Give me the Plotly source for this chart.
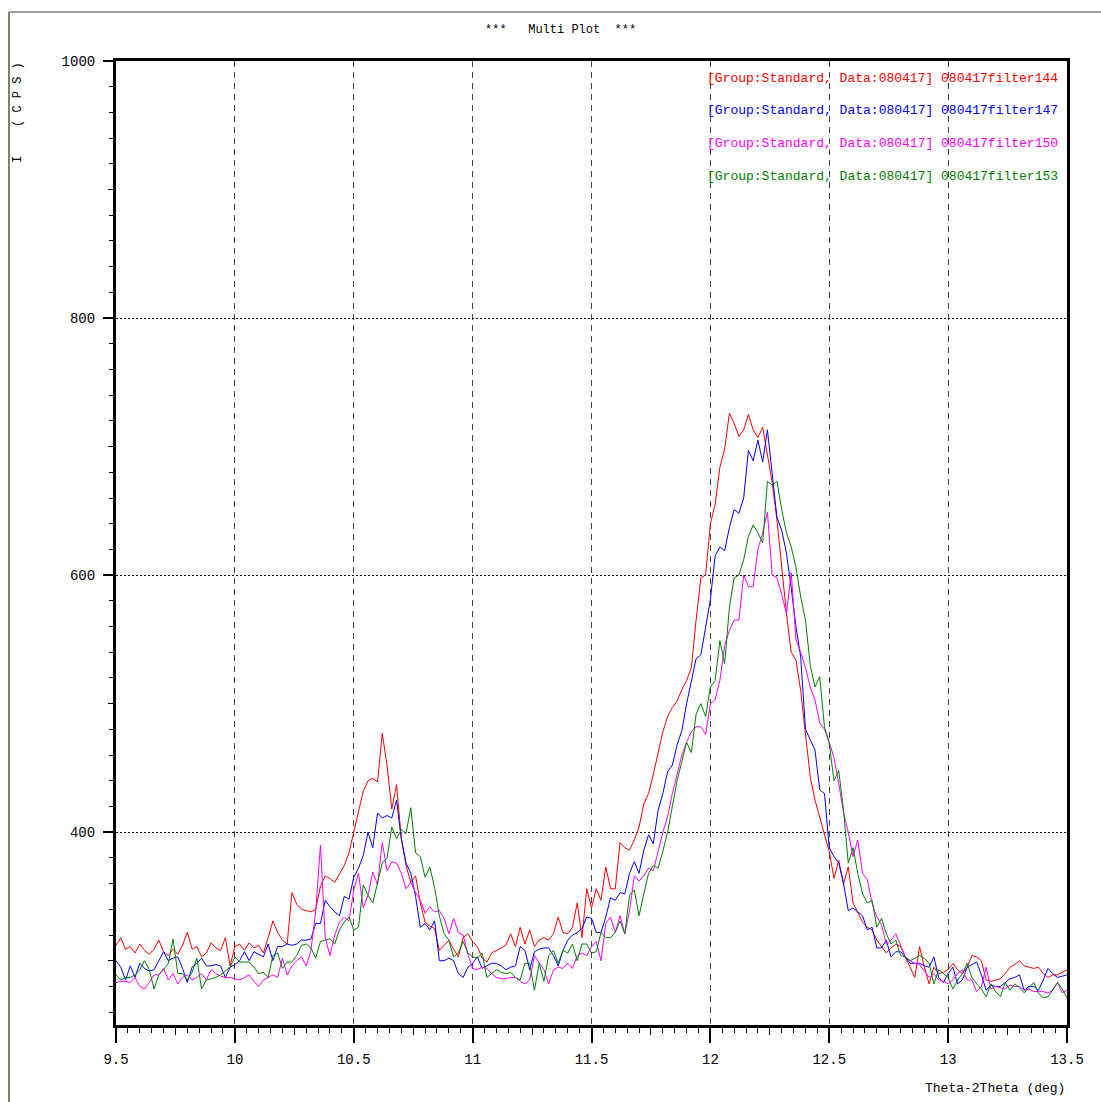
import plotly.graph_objects as go

# ---------------- data ----------------
theta_start = 9.5
theta_step = 0.02
n_points = 201
theta = [round(theta_start + theta_step * i, 2) for i in range(n_points)]

filter144 = [
    312, 318, 309, 311, 306, 313, 308, 305, 309, 316,
    307, 304, 309, 305, 312, 322, 309, 311, 303, 306,
    314, 310, 308, 318, 296, 311, 313, 308, 314, 310,
    312, 306, 318, 331, 322, 316, 313, 353, 344, 340,
    339, 338, 340, 358, 366, 364, 361, 368, 374, 384,
    400, 415, 432, 440, 442, 439, 477, 452, 418, 437,
    395, 374, 361, 366, 345, 330, 327, 325, 308, 312,
    316, 309, 303, 318, 321, 315, 311, 302, 299, 306,
    308, 310, 312, 321, 311, 326, 313, 324, 311, 316,
    318, 316, 321, 334, 322, 321, 326, 345, 318, 356,
    341, 356, 347, 373, 356, 356, 392, 388, 386, 394,
    404, 422, 430, 445, 462, 478, 490, 497, 502, 511,
    518, 528, 565, 598, 600, 640, 655, 684, 698, 726,
    718, 708, 713, 725, 713, 707, 715, 695, 672, 643,
    605, 570, 540, 534, 510, 477, 443, 425, 412, 400,
    385, 364, 378, 360, 373, 345, 337, 330, 326, 324,
    316, 311, 306, 310, 313, 311, 303, 296, 287, 311,
    295, 282, 295, 290, 291, 293, 298, 293, 290, 295,
    304, 303, 300, 285, 284, 285, 286, 290, 295, 297,
    300, 296, 295, 294, 295, 290, 287, 289, 289, 291,
    293,
]

filter147 = [
    300, 295, 285, 296, 287, 298, 294, 292, 293, 300,
    307, 300, 302, 303, 294, 283, 295, 298, 302, 296,
    296, 297, 296, 287, 295, 297, 300, 307, 300, 307,
    305, 303, 313, 300, 311, 311, 313, 312, 313, 316,
    316, 317, 329, 329, 347, 342, 338, 335, 350, 348,
    365, 372, 382, 400, 388, 415, 411, 413, 411, 425,
    395, 376, 368, 350, 326, 329, 324, 331, 300, 300,
    302, 300, 290, 287, 295, 298, 303, 294, 296, 298,
    298, 296, 293, 295, 296, 311, 308, 293, 307, 309,
    310, 310, 304, 296, 308, 316, 320, 322, 325, 334,
    333, 322, 322, 334, 349, 347, 353, 352, 368, 377,
    368, 386, 398, 391, 417, 430, 447, 452, 468, 479,
    500, 518, 535, 538, 560, 581, 615, 622, 619, 637,
    651, 648, 660, 697, 689, 705, 688, 713, 679, 645,
    635, 617, 590, 560, 536, 480, 472, 464, 433, 430,
    388, 381, 376, 360, 339, 341, 338, 335, 324, 326,
    310, 310, 316, 303, 307, 307, 303, 298, 298, 298,
    296, 295, 303, 287, 283, 290, 295, 282, 285, 295,
    297, 299, 289, 277, 281, 280, 280, 283, 286, 287,
    289, 277, 280, 280, 277, 285, 294, 290, 287, 288,
    289,
]

filter150 = [
    283, 284, 284, 283, 287, 280, 278, 283, 289, 289,
    294, 285, 290, 282, 287, 289, 285, 287, 290, 285,
    293, 290, 288, 287, 287, 286, 285, 287, 289, 284,
    280, 285, 287, 289, 287, 302, 289, 296, 300, 303,
    296, 308, 339, 390, 318, 304, 320, 330, 334, 331,
    355, 368, 341, 351, 369, 359, 392, 370, 377, 376,
    368, 356, 361, 353, 347, 337, 342, 338, 339, 333,
    321, 333, 322, 320, 305, 294, 293, 295, 294, 290,
    287, 286, 286, 287, 287, 284, 282, 285, 304, 298,
    293, 282, 293, 295, 294, 298, 294, 304, 306, 304,
    311, 315, 300, 329, 334, 322, 335, 321, 339, 366,
    362, 366, 372, 370, 386, 400, 412, 430, 445, 460,
    470, 478, 482, 482, 476, 500, 503, 518, 545, 557,
    565, 565, 600, 591, 591, 620, 633, 649, 600, 598,
    585, 570, 602, 550, 540, 528, 513, 503, 485, 480,
    470, 458, 438, 415, 400, 381, 394, 368, 363, 345,
    334, 328, 313, 316, 321, 312, 303, 300, 298, 297,
    292, 287, 290, 285, 284, 282, 285, 290, 293, 285,
    285, 276, 280, 295, 278, 280, 279, 278, 281, 280,
    280, 277, 278, 276, 276, 276, 275, 277, 283, 275,
    277,
]

filter153 = [
    289, 285, 287, 287, 289, 293, 300, 293, 278, 289,
    293, 298, 317, 290, 290, 285, 291, 302, 278, 285,
    286, 287, 289, 292, 295, 303, 299, 299, 299, 295,
    290, 291, 287, 304, 306, 294, 299, 299, 304, 312,
    313, 310, 302, 315, 316, 317, 313, 324, 330, 334,
    324, 326, 359, 351, 345, 360, 376, 380, 404, 395,
    402, 399, 419, 384, 381, 365, 373, 357, 335, 321,
    316, 303, 306, 315, 306, 303, 302, 306, 287, 290,
    293, 291, 290, 291, 287, 285, 298, 298, 277, 298,
    284, 304, 308, 298, 308, 306, 313, 300, 313, 313,
    306, 307, 322, 318, 318, 322, 331, 321, 351, 355,
    335, 352, 368, 374, 372, 385, 400, 420, 440, 455,
    470, 462, 492, 500, 490, 513, 518, 549, 531, 575,
    598, 600, 612, 630, 639, 633, 625, 673, 670, 673,
    651, 633, 622, 606, 583, 565, 530, 513, 521, 482,
    469, 440, 448, 417, 376, 388, 368, 352, 345, 347,
    326, 333, 321, 313, 316, 304, 303, 300, 302, 304,
    302, 298, 282, 293, 290, 287, 278, 285, 290, 298,
    287, 282, 278, 272, 282, 276, 272, 283, 277, 282,
    279, 275, 279, 283, 275, 271, 272, 278, 283, 278,
    271,
]

series_names = [
    "[Group:Standard, Data:080417] 080417filter144",
    "[Group:Standard, Data:080417] 080417filter147",
    "[Group:Standard, Data:080417] 080417filter150",
    "[Group:Standard, Data:080417] 080417filter153",
]
series_values = [filter144, filter147, filter150, filter153]
series_colors = ["#ff0000", "#0000ff", "#ff00ff", "#008000"]

x_tickvals = [9.5, 10, 10.5, 11, 11.5, 12, 12.5, 13, 13.5]
x_ticktext = ["9.5", "10", "10.5", "11", "11.5", "12", "12.5", "13", "13.5"]
x_midticks = [9.75, 10.25, 10.75, 11.25, 11.75, 12.25, 12.75, 13.25]
y_tickvals = [400, 600, 800, 1000]
y_ticktext = ["400", "600", "800", "1000"]
y_midticks = [300, 500, 700, 900]

# ---------------- figure ----------------
W, H = 1101, 1102
ML, MR, MT, MB = 116, 34, 61, 77
PW, PH = W - ML - MR, H - MT - MB
MONO = "Liberation Mono, Courier New, monospace"

fig = go.Figure()
for name, vals, col in zip(series_names, series_values, series_colors):
    fig.add_trace(go.Scatter(x=theta, y=vals, mode="lines", name=name,
                             line=dict(color=col, width=1), showlegend=False))

# dummy trace to activate the secondary tick axes
fig.add_trace(go.Scatter(x=[None], y=[None], xaxis="x2", yaxis="y2",
                         showlegend=False, hoverinfo="skip"))

fig.update_layout(
    width=W, height=H,
    margin=dict(l=ML, r=MR, t=MT, b=MB),
    paper_bgcolor="white", plot_bgcolor="white",
    xaxis=dict(
        range=[9.5, 13.5], tickmode="array", tickvals=x_tickvals, ticktext=x_ticktext,
        ticks="outside", ticklen=15, tickwidth=1.5, tickcolor="black",
        ticklabelstandoff=4,
        showline=True, linewidth=3, linecolor="black", mirror=True,
        showgrid=True, gridcolor="#444444", gridwidth=1, griddash="6px,5px",
        zeroline=False,
        tickfont=dict(family=MONO, size=14, color="black"),
        minor=dict(dtick=0.05, tick0=9.5, ticks="outside", ticklen=5,
                   tickwidth=1, tickcolor="black", showgrid=False),
    ),
    xaxis2=dict(
        range=[9.5, 13.5], overlaying="x", anchor="y", side="bottom",
        tickmode="array", tickvals=x_midticks, ticks="outside", ticklen=9,
        tickwidth=1, tickcolor="black", showticklabels=False,
        showgrid=False, showline=False, zeroline=False,
    ),
    yaxis=dict(
        range=[250, 1000], tickmode="array", tickvals=y_tickvals, ticktext=y_ticktext,
        ticks="outside", ticklen=10, tickwidth=1.5, tickcolor="black",
        ticklabelstandoff=5,
        showline=True, linewidth=3, linecolor="black", mirror=True,
        showgrid=True, gridcolor="black", gridwidth=1.2, griddash="2px,2px",
        zeroline=False,
        tickfont=dict(family=MONO, size=14, color="black"),
        minor=dict(dtick=20, tick0=0, ticks="outside", ticklen=4,
                   tickwidth=1, tickcolor="black", showgrid=False),
    ),
    yaxis2=dict(
        range=[250, 1000], overlaying="y", anchor="x", side="left",
        tickmode="array", tickvals=y_midticks, ticks="outside", ticklen=7,
        tickwidth=1, tickcolor="black", showticklabels=False,
        showgrid=False, showline=False, zeroline=False,
    ),
)

def px_x(px):
    return (px - ML) / PW

def px_y(py):
    return (H - MB - py) / PH

annotations = []
# title
annotations.append(dict(text="***   Multi Plot  ***", x=px_x(560), y=px_y(30),
                        xref="paper", yref="paper", showarrow=False,
                        xanchor="center", yanchor="middle",
                        font=dict(family=MONO, size=12, color="black")))
# y axis title
annotations.append(dict(text="I    ( C P S )", x=px_x(18), y=px_y(113),
                        xref="paper", yref="paper", showarrow=False, textangle=-90,
                        xanchor="center", yanchor="middle",
                        font=dict(family=MONO, size=12, color="black")))
# x axis title
annotations.append(dict(text="Theta-2Theta (deg)", x=px_x(1067), y=px_y(1088),
                        xref="paper", yref="paper", showarrow=False,
                        xanchor="right", yanchor="middle",
                        font=dict(family=MONO, size=13, color="black")))
# series labels
for k, (name, col) in enumerate(zip(series_names, series_colors)):
    annotations.append(dict(text=name, x=px_x(1060), y=px_y(78 + 32.7 * k),
                            xref="paper", yref="paper", showarrow=False,
                            xanchor="right", yanchor="middle",
                            font=dict(family=MONO, size=13, color=col)))
fig.update_layout(annotations=annotations)

# window frame lines
fig.update_layout(shapes=[
    dict(type="line", xref="paper", yref="paper",
         x0=px_x(9), x1=px_x(1101), y0=px_y(12), y1=px_y(12),
         line=dict(color="#a0a0a0", width=2)),
    dict(type="line", xref="paper", yref="paper",
         x0=px_x(9), x1=px_x(9), y0=px_y(12), y1=px_y(1102),
         line=dict(color="#858060", width=2)),
])

fig.write_html("out.html")
